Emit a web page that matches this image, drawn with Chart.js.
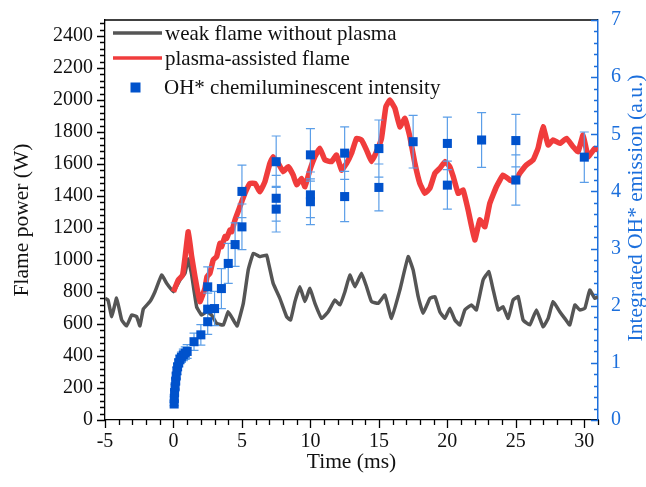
<!DOCTYPE html>
<html>
<head>
<meta charset="utf-8">
<script src="https://cdn.jsdelivr.net/npm/chart.js@4.4.1/dist/chart.umd.min.js"></script>
<style>
  html, body { margin: 0; padding: 0; background: #fff; }
  #wrap { width: 646px; height: 487px; }
</style>
</head>
<body>
<div id="wrap"><canvas id="flameChart" width="646" height="487"></canvas></div>
<script>
// weak flame without plasma (W)
const TIME_WEAK = [-5, -4.78, -4.51, -4.15, -3.78, -3.42, -3.05, -2.69, -2.45, -2.2, -1.72, -1.35, -0.86, -0.5, -0.01,
    0.47, 0.84, 1.08, 1.33, 1.69, 2.05, 2.42, 2.79, 3.15, 3.64, 4.0, 4.37, 4.65, 5.1, 5.46, 5.83, 6.31, 6.8, 6.92,
    7.28, 7.77, 8.26, 8.55, 8.87, 9.23, 9.6, 9.96, 10.33, 10.82, 11.3, 11.79, 12.15, 12.52, 12.88, 13.25, 13.73,
    14.1, 14.46, 14.95, 15.44, 15.92, 16.53, 17.14, 17.5, 17.87, 18.23, 18.72, 19.09, 19.45, 19.82, 20.18, 20.55,
    20.91, 21.28, 21.76, 22.12, 22.61, 23.03, 23.35, 23.71, 24.07, 24.44, 24.8, 25.17, 25.53, 26.02, 26.5, 26.99,
    27.36, 27.72, 28.21, 28.57, 28.94, 29.31, 29.67, 30.04, 30.4, 30.77, 31];
const POWER_WEAK = [760, 750, 646, 762, 625, 588, 656, 646, 588, 694, 740, 802, 906, 854, 802,
    875, 917, 1006, 906, 708, 656, 677, 656, 604, 594, 677, 625, 588, 729, 938, 1042, 1021, 1031, 990,
    854, 760, 646, 625, 740, 833, 740, 823, 729, 635, 677, 750, 719, 802, 906, 833, 917,
    833, 740, 729, 781, 635, 812, 1021, 938, 771, 667, 760, 771, 677, 635, 698, 625,
    594, 688, 719, 688, 875, 927, 812, 688, 708, 635, 750, 771, 625, 594, 688, 583,
    635, 740, 677, 635, 594, 719, 688, 698, 812, 760, 771];

// plasma-assisted flame (W)
const TIME_PLASMA = [0, 0.35, 0.67, 0.91, 1.08, 1.33, 1.57, 1.93, 2.3, 2.45, 2.66, 2.9, 3.15, 3.39, 3.51, 3.76, 3.88,
    4.12, 4.25, 4.49, 4.85, 5.22, 5.58, 5.95, 6.31, 6.68, 7.04, 7.28, 7.65, 8.01, 8.38, 8.74, 9.0, 9.35, 9.6,
    9.96, 10.33, 10.69, 11.06, 11.54, 11.91, 12.27, 12.64, 13.0, 13.37, 13.73, 14.1, 14.46, 14.83, 15.19, 15.51,
    15.8, 16.17, 16.53, 16.9, 17.26, 17.63, 17.99, 18.36, 18.72, 19.09, 19.45, 19.82, 20.18, 20.43, 20.79, 21.15,
    21.52, 22.0, 22.37, 22.74, 23.1, 23.58, 24.07, 24.56, 24.92, 25.29, 25.77, 26.26, 26.62, 26.99, 27.36, 27.72,
    28.21, 28.7, 29.18, 29.55, 29.91, 30.28, 30.77, 31];
const POWER_PLASMA = [802, 875, 906, 1062, 1177, 1021, 896, 740, 823, 896, 917, 1000, 1021, 1104, 1083, 1146, 1135,
    1187, 1177, 1250, 1333, 1417, 1479, 1479, 1427, 1490, 1604, 1646, 1604, 1552, 1583, 1531, 1470, 1510, 1458,
    1562, 1646, 1698, 1625, 1615, 1656, 1562, 1604, 1667, 1760, 1750, 1687, 1615, 1677, 1760, 1958,
    2000, 1948, 1833, 1885, 1771, 1604, 1479, 1417, 1448, 1542, 1573, 1615, 1583, 1521, 1417, 1437,
    1312, 1125, 1250, 1208, 1354, 1458, 1531, 1500, 1490, 1542, 1594, 1625, 1698, 1833, 1719, 1750,
    1729, 1760, 1708, 1677, 1781, 1646, 1698, 1687];

// OH* chemiluminescent intensity (a.u.) with error bars
const TIME_OH = [0.05, 0.06, 0.08, 0.12, 0.16, 0.2, 0.25, 0.3, 0.38, 0.47, 0.58, 0.72, 0.86, 1.0,
    1.5, 2.0, 2.5, 2.5, 2.5, 3.0, 3.5, 4.0, 4.5, 5.0, 5.0,
    7.5, 7.5, 7.5, 10, 10, 10, 12.5, 12.5, 15, 15, 17.5, 20, 20, 22.5, 25, 25, 30];
const OH_VALUE = [0.28, 0.38, 0.48, 0.58, 0.68, 0.77, 0.86, 0.93, 1.0, 1.06, 1.1, 1.14, 1.17, 1.2,
    1.37, 1.49, 1.72, 1.94, 2.33, 1.95, 2.3, 2.74, 3.07, 3.38, 4.0,
    4.52, 3.88, 3.69, 4.64, 3.94, 3.82, 4.67, 3.91, 4.75, 4.07, 4.87, 4.84, 4.11, 4.9, 4.89, 4.2, 4.6];
const OH_ERROR = [0.03, 0.03, 0.04, 0.04, 0.05, 0.05, 0.06, 0.06, 0.07, 0.08, 0.09, 0.1, 0.11, 0.12,
    0.15, 0.18, 0.22, 0.28, 0.35, 0.3, 0.35, 0.35, 0.38, 0.4, 0.46,
    0.45, 0.4, 0.4, 0.46, 0.4, 0.4, 0.46, 0.44, 0.5, 0.41, 0.46, 0.46, 0.42, 0.48, 0.46, 0.44, 0.44];

const X_TICKS = [-5, 0, 5, 10, 15, 20, 25, 30];
const Y_TICKS = [0, 200, 400, 600, 800, 1000, 1200, 1400, 1600, 1800, 2000, 2200, 2400];
const Y1_TICKS = [0, 1, 2, 3, 4, 5, 6, 7];

const BLUE_AXIS = '#1c6fdc';
const SERIF = '"Liberation Serif", "Times New Roman", serif';

function minorValues(min, max, step) {
    const out = [];
    for (let v = min; v <= max + 1e-9; v += step) out.push(+v.toFixed(4));
    return out;
}

// Outward/inward tick marks (major + minor) and the top frame line
const tickMarksPlugin = {
    id: 'tickMarks',
    afterDraw(chart) {
        const { ctx, chartArea: a, scales } = chart;
        ctx.save();
        ctx.lineWidth = 1.3;

        ctx.strokeStyle = '#000';
        ctx.beginPath();
        ctx.moveTo(a.left, a.top);
        ctx.lineTo(a.right, a.top);
        ctx.stroke();

        const xs = scales.x;
        ctx.beginPath();
        minorValues(-5, 31, 1).forEach(v => {
            const px = Math.round(xs.getPixelForValue(v)) + 0.5;
            const len = X_TICKS.includes(v) ? 8 : 5;
            ctx.moveTo(px, a.bottom);
            ctx.lineTo(px, a.bottom + len);
        });
        const ys = scales.y;
        minorValues(0, 2480, 40).forEach(v => {
            const py = Math.round(ys.getPixelForValue(v)) + 0.5;
            const len = Y_TICKS.includes(v) ? 8 : 5;
            ctx.moveTo(a.left, py);
            ctx.lineTo(a.left - len, py);
        });
        ctx.stroke();

        const y1 = scales.y1;
        ctx.strokeStyle = BLUE_AXIS;
        ctx.beginPath();
        minorValues(0, 7, 0.2).forEach(v => {
            const py = Math.round(y1.getPixelForValue(v)) + 0.5;
            const len = Y1_TICKS.includes(v) ? 7 : 4;
            ctx.moveTo(a.right, py);
            ctx.lineTo(a.right - len, py);
        });
        ctx.stroke();

        // right axis title, reading bottom to top
        ctx.fillStyle = BLUE_AXIS;
        ctx.font = `21.5px ${SERIF}`;
        ctx.textAlign = 'center';
        ctx.textBaseline = 'middle';
        ctx.translate(636, 208);
        ctx.rotate(-Math.PI / 2);
        ctx.fillText('Integrated OH* emission (a.u.)', 0, 0);
        ctx.restore();
    }
};

// Error bars drawn just before the OH* squares
const errorBarPlugin = {
    id: 'errorBars',
    beforeDatasetDraw(chart, args) {
        if (args.meta.label !== 'OH* chemiluminescent intensity') return;
        const { ctx } = chart;
        const xs = chart.scales.x, ys = chart.scales.y1;
        ctx.save();
        ctx.strokeStyle = '#5b9ee8';
        ctx.lineWidth = 1.2;
        ctx.beginPath();
        TIME_OH.forEach((t, i) => {
            const px = xs.getPixelForValue(t);
            const hi = ys.getPixelForValue(OH_VALUE[i] + OH_ERROR[i]);
            const lo = ys.getPixelForValue(OH_VALUE[i] - OH_ERROR[i]);
            ctx.moveTo(px, hi); ctx.lineTo(px, lo);
            ctx.moveTo(px - 4.5, hi); ctx.lineTo(px + 4.5, hi);
            ctx.moveTo(px - 4.5, lo); ctx.lineTo(px + 4.5, lo);
        });
        ctx.stroke();
        ctx.restore();
    }
};

// Legend inside the plot, top-left
const insideLegendPlugin = {
    id: 'insideLegend',
    afterDraw(chart) {
        const { ctx } = chart;
        ctx.save();
        ctx.lineWidth = 3.5;
        ctx.strokeStyle = '#555555';
        ctx.beginPath(); ctx.moveTo(113, 33); ctx.lineTo(162, 33); ctx.stroke();
        ctx.strokeStyle = '#f03c3c';
        ctx.beginPath(); ctx.moveTo(113, 58); ctx.lineTo(162, 58); ctx.stroke();
        ctx.fillStyle = '#0052cc';
        ctx.fillRect(130.5, 82.5, 10, 10);

        ctx.fillStyle = '#111';
        ctx.font = `21px ${SERIF}`;
        ctx.textAlign = 'left';
        ctx.textBaseline = 'alphabetic';
        ctx.fillText('weak flame without plasma', 165, 39.5);
        ctx.fillText('plasma-assisted flame', 165, 64.5);
        ctx.fillText('OH* chemiluminescent intensity', 164, 93.5);
        ctx.restore();
    }
};

function renderFlameChart() {
    const ctx = document.getElementById('flameChart').getContext('2d');

    const weakData = TIME_WEAK.map((t, i) => ({ x: t, y: POWER_WEAK[i] }));
    const plasmaData = TIME_PLASMA.map((t, i) => ({ x: t, y: POWER_PLASMA[i] }));
    const ohData = TIME_OH.map((t, i) => ({ x: t, y: OH_VALUE[i] }));

    new Chart(ctx, {
        type: 'scatter',
        data: {
            datasets: [
                {
                    label: 'OH* chemiluminescent intensity',
                    data: ohData,
                    yAxisID: 'y1',
                    pointStyle: 'rect',
                    pointRadius: 6.4,
                    pointBorderWidth: 0,
                    backgroundColor: '#0052cc',
                    order: 0
                },
                {
                    label: 'plasma-assisted flame',
                    data: plasmaData,
                    yAxisID: 'y',
                    showLine: true,
                    borderColor: '#f03c3c',
                    borderWidth: 5.5,
                    pointRadius: 0,
                    tension: 0.1,
                    borderJoinStyle: 'round',
                    order: 1
                },
                {
                    label: 'weak flame without plasma',
                    data: weakData,
                    yAxisID: 'y',
                    showLine: true,
                    borderColor: '#555555',
                    borderWidth: 3.5,
                    pointRadius: 0,
                    tension: 0.1,
                    borderJoinStyle: 'round',
                    order: 2
                }
            ]
        },
        options: {
            responsive: false,
            animation: false,
            events: [],
            layout: { padding: { top: 20, left: 0, right: 0, bottom: 0 } },
            plugins: {
                legend: { display: false },
                tooltip: { enabled: false }
            },
            scales: {
                x: {
                    type: 'linear',
                    min: -5,
                    max: 31,
                    afterBuildTicks: s => { s.ticks = X_TICKS.map(v => ({ value: v })); },
                    afterFit: s => { s.height = 67; },
                    grid: { display: false, drawTicks: true, tickLength: 8 },
                    border: { display: true, color: '#000', width: 1.3 },
                    ticks: {
                        color: '#111', padding: 2, font: { family: SERIF, size: 20 },
                        callback: v => String(v)
                    },
                    title: {
                        display: true,
                        text: 'Time (ms)',
                        color: '#111',
                        font: { family: SERIF, size: 21.5 },
                        padding: { top: 0, bottom: 12 }
                    }
                },
                y: {
                    type: 'linear',
                    position: 'left',
                    min: 0,
                    max: 2500,
                    afterBuildTicks: s => { s.ticks = Y_TICKS.map(v => ({ value: v })); },
                    afterFit: s => { s.width = 105; },
                    grid: { display: false, drawTicks: true, tickLength: 8 },
                    border: { display: true, color: '#000', width: 1.3 },
                    ticks: {
                        color: '#111', padding: 4, font: { family: SERIF, size: 20 },
                        callback: v => String(v)
                    },
                    title: {
                        display: true,
                        text: 'Flame power (W)',
                        color: '#111',
                        font: { family: SERIF, size: 21.5 },
                        padding: { top: 9, bottom: 0 }
                    }
                },
                y1: {
                    type: 'linear',
                    position: 'right',
                    min: 0,
                    max: 7,
                    afterBuildTicks: s => { s.ticks = Y1_TICKS.map(v => ({ value: v })); },
                    afterFit: s => { s.width = 48; },
                    grid: { display: false, drawTicks: true, tickLength: 8 },
                    border: { display: true, color: BLUE_AXIS, width: 1.5 },
                    ticks: {
                        color: BLUE_AXIS, padding: 5, font: { family: SERIF, size: 20 },
                        callback: v => String(v)
                    }
                }
            }
        },
        plugins: [errorBarPlugin, tickMarksPlugin, insideLegendPlugin]
    });
}

document.addEventListener('DOMContentLoaded', renderFlameChart);
</script>
</body>
</html>
